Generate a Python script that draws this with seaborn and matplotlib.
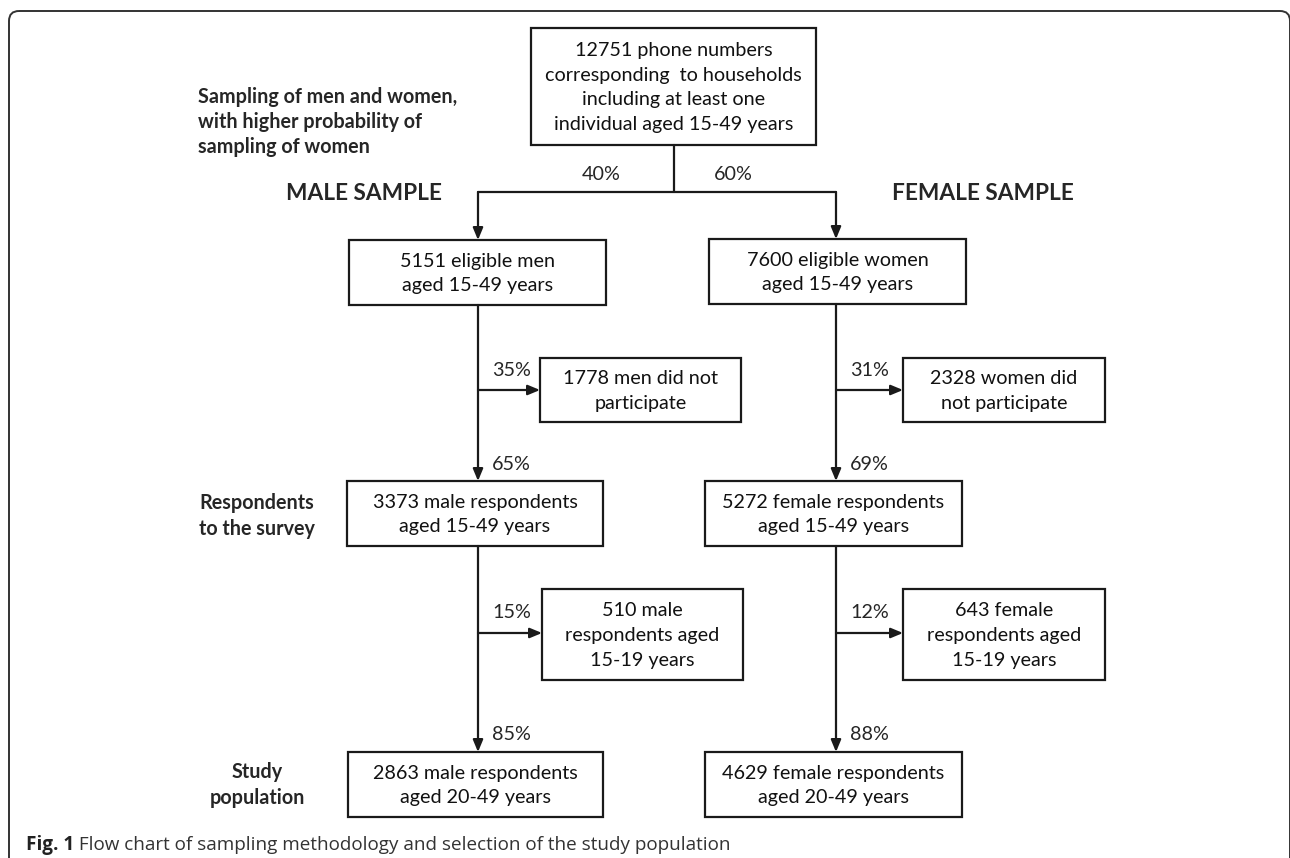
import matplotlib
matplotlib.use("Agg")
import matplotlib.pyplot as plt
import seaborn as sns
from matplotlib.patches import Rectangle, FancyBboxPatch

# chart content
top_text = "12751 phone numbers\ncorresponding  to households\nincluding at least one\nindividual aged 15-49 years"
split_pcts = ["40%", "60%"]
sample_titles = ["MALE SAMPLE", "FEMALE SAMPLE"]
stage_labels = ["Sampling of men and women,\nwith higher probability of\nsampling of women",
                "Respondents\nto the survey",
                "Study\npopulation"]
male_boxes = ["5151 eligible men\naged 15-49 years",
              "3373 male respondents\naged 15-49 years",
              "2863 male respondents\naged 20-49 years"]
female_boxes = ["7600 eligible women\naged 15-49 years",
                "5272 female respondents\naged 15-49 years",
                "4629 female respondents\naged 20-49 years"]
male_excluded = ["1778 men did not\nparticipate", "510 male\nrespondents aged\n15-19 years"]
female_excluded = ["2328 women did\nnot participate", "643 female\nrespondents aged\n15-19 years"]
male_out_pcts = ["35%", "15%"]
male_in_pcts = ["65%", "85%"]
female_out_pcts = ["31%", "12%"]
female_in_pcts = ["69%", "88%"]
caption_bold = "Fig. 1"
caption_text = " Flow chart of sampling methodology and selection of the study population"

# layout (pixel coordinates, y downwards)
top_box = (531, 28, 816, 145)
col_boxes = {
    "male": [(349, 240, 606, 305), (347, 481, 603, 546), (348, 752, 603, 817)],
    "female": [(709, 239, 966, 304), (705, 481, 962, 546), (705, 752, 962, 817)],
}
side_boxes = {
    "male": [(540, 358, 741, 422), (542, 589, 743, 680)],
    "female": [(903, 358, 1105, 422), (903, 589, 1105, 680)],
}
trunk_x = {"male": 478, "female": 836}
branch_y = [390, 633]
split_y = 192

sns.set_theme(style="white")
plt.rcParams["font.family"] = ["Lato", "DejaVu Sans"]

W, H = 1290, 858
fig = plt.figure(figsize=(W / 100, H / 100), dpi=100)
ax = fig.add_axes([0, 0, 1, 1])
ax.set_xlim(0, W)
ax.set_ylim(H, 0)
ax.axis("off")

LW = 1.6
EC = "#1a1a1a"
FS = 14.2


def box(b, text, fs=FS):
    x0, y0, x1, y1 = b
    ax.add_patch(Rectangle((x0, y0), x1 - x0, y1 - y0, fill=False, ec=EC, lw=LW))
    ax.text((x0 + x1) / 2, (y0 + y1) / 2 + 1, text, ha="center", va="center",
            fontsize=fs, linespacing=1.55, color="#111111")


def arrow(x0, y0, x1, y1):
    ax.annotate("", xy=(x1, y1), xytext=(x0, y0),
                arrowprops=dict(arrowstyle="-|>,head_length=0.6,head_width=0.25",
                                color=EC, lw=LW, shrinkA=0, shrinkB=0))


# outer rounded frame
ax.add_patch(FancyBboxPatch((9, 11), 1281, 900, boxstyle="round,pad=0,rounding_size=10",
                            fill=False, ec="#333333", lw=1.4))

# top box and split
box(top_box, top_text)
cx_top = (top_box[0] + top_box[2]) / 2
ax.plot([cx_top, cx_top], [top_box[3], split_y], color=EC, lw=LW)
ax.plot([trunk_x["male"], trunk_x["female"]], [split_y, split_y], color=EC, lw=LW)
arrow(trunk_x["male"], split_y, trunk_x["male"], col_boxes["male"][0][1])
arrow(trunk_x["female"], split_y, trunk_x["female"], col_boxes["female"][0][1])
ax.text(601, 174, split_pcts[0], ha="center", va="center", fontsize=FS)
ax.text(733, 174, split_pcts[1], ha="center", va="center", fontsize=FS)

# stage labels
ax.text(198, 122, stage_labels[0], ha="left", va="center", fontsize=FS, fontweight="bold",
        linespacing=1.32)
ax.text(257, 516, stage_labels[1], ha="center", va="center", fontsize=FS, fontweight="bold",
        linespacing=1.32)
ax.text(257, 785, stage_labels[2], ha="center", va="center", fontsize=FS, fontweight="bold",
        linespacing=1.32)

# sample titles
ax.text(286, 194, sample_titles[0], ha="left", va="center", fontsize=16.3, fontweight="bold")
ax.text(892, 193, sample_titles[1], ha="left", va="center", fontsize=16.3, fontweight="bold")

# columns
cols = {
    "male": (male_boxes, male_excluded, male_out_pcts, male_in_pcts),
    "female": (female_boxes, female_excluded, female_out_pcts, female_in_pcts),
}
for key, (mains, sides, outs, ins) in cols.items():
    tx = trunk_x[key]
    for b, t in zip(col_boxes[key], mains):
        box(b, t)
    for i in range(2):
        y_from = col_boxes[key][i][3]
        y_to = col_boxes[key][i + 1][1]
        arrow(tx, y_from, tx, y_to)
        sb = side_boxes[key][i]
        arrow(tx, branch_y[i], sb[0], branch_y[i])
        box(sb, sides[i])
        ax.text(tx + 14, branch_y[i] - 20, outs[i], ha="left", va="center", fontsize=FS)
        ax.text(tx + 14, y_to - 17, ins[i], ha="left", va="center", fontsize=FS)

# caption
t = ax.text(26, 845, caption_bold, ha="left", va="center", fontsize=13.6, fontweight="bold",
            family=["Open Sans", "DejaVu Sans"], color="#222222")
ax.annotate(caption_text, xycoords=t, xy=(1, 0.5), va="center", ha="left", fontsize=13.6,
            family=["Open Sans", "DejaVu Sans"], color="#333333")

fig.savefig("out.png", dpi=100, facecolor="white")
